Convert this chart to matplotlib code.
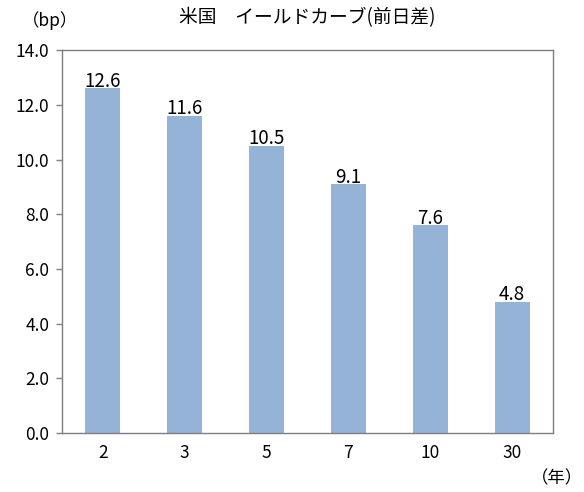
import matplotlib
matplotlib.use("Agg")
import matplotlib.pyplot as plt

plt.rcParams['font.family'] = ['Noto Sans CJK JP', 'DejaVu Sans']

# data
maturities = ["2", "3", "5", "7", "10", "30"]
changes = [12.6, 11.6, 10.5, 9.1, 7.6, 4.8]

bar_color = "#95B3D7"

fig = plt.figure(figsize=(5.84, 4.92), dpi=100)
ax = fig.add_axes([0.106, 0.12, 0.841, 0.778])

x = range(len(maturities))
ax.bar(x, changes, width=0.43, color=bar_color)

# value labels on top of the bars
for xi, v in zip(x, changes):
    ax.text(xi, v + 0.06, "%.1f" % v, ha="center", va="baseline", fontsize=13.5)

ax.set_xlim(-0.5, len(maturities) - 0.5)
ax.set_ylim(0, 14)
ax.set_yticks([0, 2, 4, 6, 8, 10, 12, 14])
ax.set_yticklabels(["%.1f" % t for t in ax.get_yticks()], fontsize=12.5)
ax.set_xticks(list(x))
ax.set_xticklabels(maturities, fontsize=12.5)
ax.tick_params(axis="x", length=0, pad=8)
ax.tick_params(axis="y", length=4, width=1, color="#808080", pad=5)

for s in ax.spines.values():
    s.set_color("#7f7f7f")
    s.set_linewidth(1)

fig.text(0.526, 0.965, "米国　イールドカーブ(前日差)", ha="center", va="center", fontsize=13.5)
fig.text(0.086, 0.959, "（bp）", ha="center", va="center", fontsize=12.5)
fig.text(0.954, 0.028, "（年）", ha="center", va="center", fontsize=12.5)

fig.savefig("out.png", dpi=100)
